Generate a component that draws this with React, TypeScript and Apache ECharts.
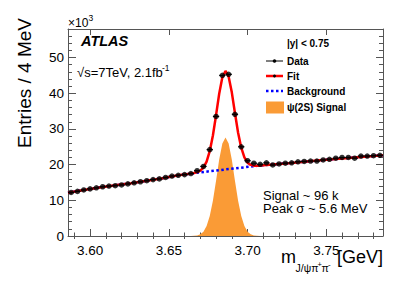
import React, { useEffect, useRef } from 'react';
import * as echarts from 'echarts';

// ---- data (values in units of 10^3 entries / 4 MeV) ----
const binCenters = [
  3.588, 3.592, 3.596, 3.600, 3.604, 3.608, 3.612, 3.616, 3.620, 3.624,
  3.628, 3.632, 3.636, 3.640, 3.644, 3.648, 3.652, 3.656, 3.660, 3.664,
  3.668, 3.672, 3.676, 3.680, 3.684, 3.688, 3.692, 3.696, 3.700, 3.704,
  3.708, 3.712, 3.716, 3.720, 3.724, 3.728, 3.732, 3.736, 3.740, 3.744,
  3.748, 3.752, 3.756, 3.760, 3.764, 3.768, 3.772, 3.776, 3.780, 3.784,
];
const dataCounts = [
  12.2, 12.5, 12.9, 13.2, 13.5, 13.8, 14.0, 14.1, 14.3, 14.6,
  14.9, 15.2, 15.5, 15.8, 16.0, 16.4, 16.8, 17.0, 17.2, 17.5,
  18.3, 19.5, 24.2, 33.5, 45.0, 45.3, 34.1, 25.0, 21.1, 20.4,
  20.1, 20.5, 19.9, 20.2, 20.4, 20.5, 20.8, 20.9, 21.0, 21.0,
  21.3, 21.5, 21.8, 22.0, 22.0, 21.8, 22.4, 22.4, 22.5, 22.6,
];
const halfBinWidth = 0.002;

const fitMass = [
  3.586, 3.596, 3.606, 3.616, 3.626, 3.636, 3.646, 3.656, 3.662, 3.666,
  3.668, 3.670, 3.672, 3.674, 3.676, 3.678, 3.680, 3.682, 3.684, 3.686,
  3.688, 3.690, 3.692, 3.694, 3.696, 3.698, 3.700, 3.702, 3.704, 3.706,
  3.710, 3.716, 3.726, 3.736, 3.746, 3.756, 3.766, 3.776, 3.786,
];
const fitValues = [
  12.1, 12.9, 13.6, 14.2, 14.8, 15.5, 16.2, 17.0, 17.35, 17.65,
  17.9, 18.3, 19.15, 20.85, 23.75, 28.15, 33.85, 39.85, 44.45, 46.25,
  44.65, 40.25, 34.45, 28.95, 24.75, 22.05, 20.55, 19.92, 19.71, 19.7,
  19.85, 20.05, 20.4, 20.8, 21.2, 21.6, 21.95, 22.3, 22.6,
];

const bkgMass = [
  3.586, 3.596, 3.606, 3.616, 3.626, 3.636, 3.646, 3.656, 3.666, 3.676,
  3.686, 3.696, 3.706, 3.716, 3.726, 3.736, 3.746, 3.756, 3.766, 3.776, 3.786,
];
const bkgValues = [
  12.1, 12.9, 13.6, 14.2, 14.8, 15.5, 16.2, 17.0, 17.6, 18.15,
  18.65, 19.15, 19.65, 20.05, 20.4, 20.8, 21.2, 21.6, 21.95, 22.3, 22.6,
];

const sigMass = [
  3.660, 3.662, 3.664, 3.666, 3.668, 3.670, 3.672, 3.674, 3.676, 3.678,
  3.680, 3.682, 3.684, 3.686, 3.688, 3.690, 3.692, 3.694, 3.696, 3.698,
  3.700, 3.702, 3.704, 3.706, 3.708, 3.710, 3.712,
];
const sigValues = [
  0, 0.01, 0.02, 0.05, 0.16, 0.47, 1.2, 2.8, 5.6, 9.9,
  15.5, 21.4, 25.9, 27.6, 25.9, 21.4, 15.5, 9.9, 5.6, 2.8,
  1.2, 0.47, 0.16, 0.05, 0.02, 0.01, 0,
];

// ---- axes ----
const X_MIN = 3.586;
const X_MAX = 3.786;
const Y_MIN = 0;
const Y_MAX = 58;
const xMajorTicks = [3.6, 3.65, 3.7, 3.75];
const xMinorTicks = [
  3.59, 3.61, 3.62, 3.63, 3.64, 3.66, 3.67, 3.68, 3.69,
  3.71, 3.72, 3.73, 3.74, 3.76, 3.77, 3.78,
];
const yMajorTicks = [0, 10, 20, 30, 40, 50];
const yMinorTicks = [
  2, 4, 6, 8, 12, 14, 16, 18, 22, 24, 26, 28, 32, 34, 36, 38,
  42, 44, 46, 48, 52, 54, 56,
];

const FONT = '"Liberation Sans", Arial, Helvetica, sans-serif';
const AXIS_COLOR = '#555';
const ORANGE = '#fa9b36';
const RED = '#ff0000';
const BLUE = '#0000ff';

function pairs(xs: number[], ys: number[]) {
  return xs.map((x, i) => [x, ys[i]]);
}

function txt(text: string, x: number, y: number, fontSize: number, extra: any = {}) {
  return {
    type: 'text',
    x,
    y,
    style: {
      text,
      fontSize,
      fontFamily: FONT,
      fill: '#000',
      align: 'left',
      verticalAlign: 'middle',
      ...extra,
    },
  };
}

export default function App() {
  const ref = useRef<HTMLDivElement>(null);

  useEffect(() => {
    if (!ref.current) return;
    const chart = echarts.init(ref.current, null, { renderer: 'svg' });

    const hidden = {
      type: 'value' as const,
      splitLine: { show: false },
      axisLabel: { show: false },
      axisLine: { show: false },
      axisTick: { show: false },
    };
    const xBase = { ...hidden, min: X_MIN, max: X_MAX };
    const yBase = { ...hidden, min: Y_MIN, max: Y_MAX };
    const lineStyle = { color: AXIS_COLOR, width: 1 };
    const bold = { fontWeight: 'bold' };

    const option: any = {
      animation: false,
      grid: { left: 68, right: 24, top: 29, bottom: 48 },
      xAxis: [
        {
          ...xBase,
          position: 'bottom',
          axisLine: { show: true, onZero: false, lineStyle },
          axisTick: { show: true, inside: true, length: 7, customValues: xMajorTicks, lineStyle },
          axisLabel: {
            show: true,
            customValues: xMajorTicks,
            formatter: (v: number) => v.toFixed(2),
            margin: 7,
            fontSize: 13.5,
            fontFamily: FONT,
            color: '#000',
          },
        },
        {
          ...xBase,
          position: 'bottom',
          axisTick: { show: true, inside: true, length: 3.5, customValues: xMinorTicks, lineStyle },
        },
        {
          ...xBase,
          position: 'top',
          axisLine: { show: true, onZero: false, lineStyle },
          axisTick: { show: true, inside: true, length: 6, customValues: xMajorTicks, lineStyle },
        },
        {
          ...xBase,
          position: 'top',
          axisTick: { show: true, inside: true, length: 3, customValues: xMinorTicks, lineStyle },
        },
      ],
      yAxis: [
        {
          ...yBase,
          position: 'left',
          axisLine: { show: true, onZero: false, lineStyle },
          axisTick: { show: true, inside: true, length: 8, customValues: yMajorTicks, lineStyle },
          axisLabel: {
            show: true,
            customValues: yMajorTicks,
            formatter: (v: number) => String(v),
            margin: 4,
            fontSize: 13.5,
            fontFamily: FONT,
            color: '#000',
          },
        },
        {
          ...yBase,
          position: 'left',
          axisTick: { show: true, inside: true, length: 4, customValues: yMinorTicks, lineStyle },
        },
        {
          ...yBase,
          position: 'right',
          axisLine: { show: true, onZero: false, lineStyle },
          axisTick: { show: true, inside: true, length: 7, customValues: yMajorTicks, lineStyle },
        },
        {
          ...yBase,
          position: 'right',
          axisTick: { show: true, inside: true, length: 4, customValues: yMinorTicks, lineStyle },
        },
      ],
      series: [
        {
          name: 'ψ(2S) Signal',
          type: 'line',
          data: pairs(sigMass, sigValues),
          symbol: 'none',
          lineStyle: { width: 0 },
          areaStyle: { color: ORANGE, opacity: 1 },
          z: 1,
        },
        {
          name: 'Background',
          type: 'line',
          data: pairs(bkgMass, bkgValues),
          symbol: 'none',
          lineStyle: { color: BLUE, width: 2.5, type: [2.5, 2.5] },
          z: 2,
        },
        {
          name: 'Fit',
          type: 'line',
          data: pairs(fitMass, fitValues),
          symbol: 'none',
          lineStyle: { color: RED, width: 2.5 },
          z: 3,
        },
        {
          name: 'Data bins',
          type: 'custom',
          data: pairs(binCenters, dataCounts),
          renderItem: (params: any, api: any) => {
            const x = api.value(0);
            const y = api.value(1);
            const p1 = api.coord([x - halfBinWidth, y]);
            const p2 = api.coord([x + halfBinWidth, y]);
            return {
              type: 'line',
              shape: { x1: p1[0], y1: p1[1], x2: p2[0], y2: p2[1] },
              style: { stroke: '#000', lineWidth: 1.2 },
            };
          },
          z: 4,
        },
        {
          name: 'Data',
          type: 'scatter',
          data: pairs(binCenters, dataCounts),
          symbol: 'circle',
          symbolSize: 5.5,
          itemStyle: { color: '#000' },
          z: 5,
        },
      ],
      graphic: [
        // x10^3
        txt('×10', 68, 22.5, 12),
        txt('3', 88.5, 17.5, 8.5),
        // y title
        {
          type: 'text',
          x: 24,
          y: 83,
          rotation: Math.PI / 2,
          style: {
            text: 'Entries / 4 MeV',
            fontSize: 19,
            fontFamily: FONT,
            fill: '#000',
            align: 'center',
            verticalAlign: 'middle',
          },
        },
        // x title
        txt('m', 281, 257, 18),
        txt('J/ψπ', 295.5, 268, 10.5),
        txt('+', 317.5, 264, 7.5),
        txt('π', 321.5, 268, 10.5),
        txt('-', 328, 264, 8),
        txt('[GeV]', 383, 257, 18, { align: 'right' }),
        // ATLAS
        txt('ATLAS', 81, 41, 14.5, { fontWeight: 'bold', fontStyle: 'italic' }),
        txt('√s=7TeV, 2.1fb', 77, 72, 13),
        txt('-1', 162, 67.5, 8.5),
        // annotations
        txt('Signal ~ 96 k', 263, 195, 13),
        txt('Peak σ ~ 5.6 MeV', 263, 208.5, 13),
        // legend
        txt('|y| < 0.75', 287, 43.5, 10, bold),
        { type: 'line', shape: { x1: 266, y1: 61, x2: 283, y2: 61 }, style: { stroke: '#000', lineWidth: 1 } },
        { type: 'circle', shape: { cx: 274.5, cy: 61, r: 1.8 }, style: { fill: '#000' } },
        txt('Data', 287, 61, 10, bold),
        { type: 'line', shape: { x1: 266, y1: 76, x2: 283, y2: 76 }, style: { stroke: RED, lineWidth: 2.5 } },
        { type: 'circle', shape: { cx: 274.5, cy: 76, r: 1.5 }, style: { fill: '#000' } },
        txt('Fit', 287, 76, 10, bold),
        { type: 'line', shape: { x1: 266, y1: 91, x2: 283, y2: 91 }, style: { stroke: BLUE, lineWidth: 2.5, lineDash: [2.5, 2.5] } },
        txt('Background', 287, 91, 10, bold),
        { type: 'rect', shape: { x: 266, y: 101.5, width: 18, height: 12 }, style: { fill: ORANGE } },
        txt('ψ(2S) Signal', 287, 107, 10, bold),
      ],
    };

    chart.setOption(option);
    return () => chart.dispose();
  }, []);

  return (
    <div
      ref={ref}
      style={{ position: 'fixed', left: 0, top: 0, width: 407, height: 284, background: '#fff' }}
    />
  );
}
